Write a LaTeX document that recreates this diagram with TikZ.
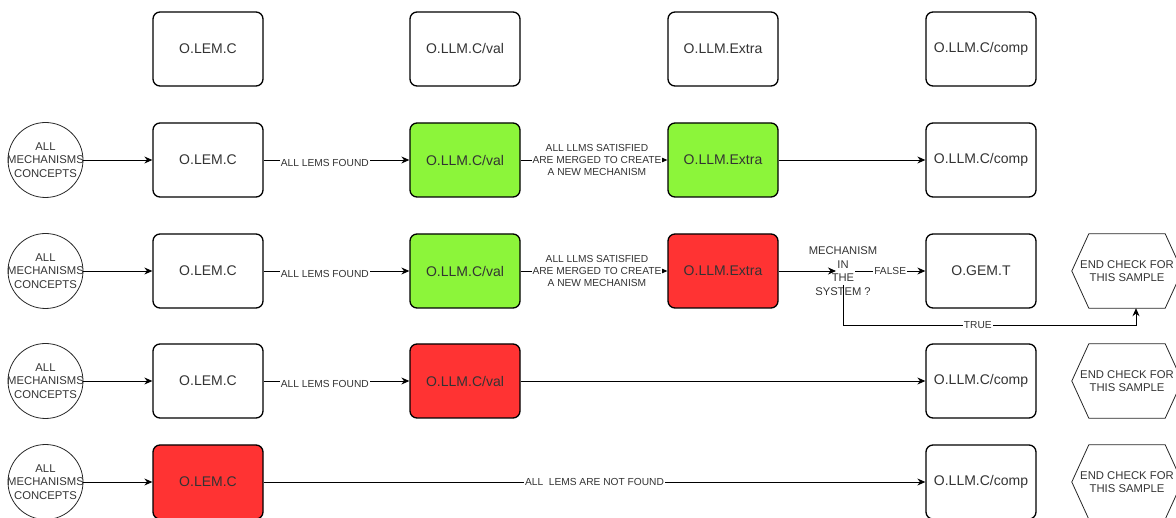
\documentclass[tikz,border=0pt]{standalone}
\usepackage{fontspec}
\setmainfont{Liberation Sans}
\usetikzlibrary{arrows.meta}
\definecolor{okgreen}{HTML}{8CF53A}
\definecolor{failred}{HTML}{FF3333}
\definecolor{txt}{HTML}{333333}
\tikzset{
  stage/.style={draw=black, line width=1.3pt, rounded corners=7pt,
    minimum width=110pt, minimum height=74pt, fill=white, text=txt,
    font=\fontsize{14}{16}\selectfont},
  pass/.style={stage, fill=okgreen},
  fail/.style={stage, fill=failred},
  srctext/.style={align=center, text=txt, font=\fontsize{11.3}{13.5}\selectfont},
  source/.style={circle, draw=black!85, line width=0.8pt, minimum size=75pt,
    inner sep=0pt},
  endcheck/.style={minimum width=110pt, minimum height=74pt, align=center,
    text=txt, font=\fontsize{11.3}{13.5}\selectfont},
  hexline/.style={draw=black!85, line width=0.8pt},
  decision/.style={align=center, text=txt, inner sep=0pt,
    font=\fontsize{11.2}{13.5}\selectfont},
  flow/.style={draw=black, line width=0.9pt, -{Stealth[length=8pt,width=7pt]}},
  lbl/.style={fill=white, inner sep=1pt, text=txt, align=center,
    font=\fontsize{10.2}{12}\selectfont},
}
\begin{document}
\begin{tikzpicture}[x=1pt, y=-1pt]
\useasboundingbox (0,0) rectangle (1176,518);

% column headers
\node[stage] (t1) at (208,49) {O.LEM.C};
\node[stage] (t2) at (465,49) {O.LLM.C/val};
\node[stage] (t3) at (723,49) {O.LLM.Extra};
\node[stage] (t4) at (981,49) {O.LLM.C/comp};

% case 1: everything validated
\node[source, label={[srctext]center:ALL\\MECHANISMS\\CONCEPTS}] (s1) at (45.5,160) {};
\node[stage] (a1) at (208,160) {O.LEM.C};
\node[pass]  (a2) at (465,160) {O.LLM.C/val};
\node[pass]  (a3) at (723,160) {O.LLM.Extra};
\node[stage] (a4) at (981,160) {O.LLM.C/comp};
\draw[flow] (s1) -- (a1);
\draw[flow] (a1) -- node[lbl, pos=0.42, yshift=-3pt] {ALL LEMS FOUND} (a2);
\draw[flow] (a2) -- node[lbl, pos=0.52] {ALL LLMS SATISFIED\\ARE MERGED TO CREATE\\A NEW MECHANISM} (a3);
\draw[flow] (a3) -- (a4);

% case 2: extra mechanism check fails
\node[source, label={[srctext]center:ALL\\MECHANISMS\\CONCEPTS}] (s2) at (45.5,271) {};
\node[stage] (b1) at (208,271) {O.LEM.C};
\node[pass]  (b2) at (465,271) {O.LLM.C/val};
\node[fail]  (b3) at (723,271) {O.LLM.Extra};
\node[decision] (dec) at (843,271) {MECHANISM\\IN\\THE\\SYSTEM ?};
\node[stage] (b4) at (981,271) {O.GEM.T};
\node[endcheck] (e2) at (1127,271) {END CHECK FOR\\THIS SAMPLE};
\draw[flow] (s2) -- (b1);
\draw[flow] (b1) -- node[lbl, pos=0.42, yshift=-3pt] {ALL LEMS FOUND} (b2);
\draw[flow] (b2) -- node[lbl, pos=0.52] {ALL LLMS SATISFIED\\ARE MERGED TO CREATE\\A NEW MECHANISM} (b3);
\draw[flow] (b3) -- ([xshift=-7pt]dec.center);
\draw[flow] ([xshift=12pt]dec.center) -- node[lbl] {FALSE} (b4);
\draw[flow] ([yshift=-14pt]dec.center) -- ([yshift=-54pt]dec.center)
  -| node[lbl, pos=0.23] {TRUE} ([xshift=9pt]e2.south);

% case 3: validation fails
\node[source, label={[srctext]center:ALL\\MECHANISMS\\CONCEPTS}] (s3) at (45.5,381) {};
\node[stage] (c1) at (208,381) {O.LEM.C};
\node[fail]  (c2) at (465,381) {O.LLM.C/val};
\node[stage] (c4) at (981,381) {O.LLM.C/comp};
\node[endcheck] (e3) at (1127,381) {END CHECK FOR\\THIS SAMPLE};
\draw[flow] (s3) -- (c1);
\draw[flow] (c1) -- node[lbl, pos=0.42, yshift=-3pt] {ALL LEMS FOUND} (c2);
\draw[flow] (c2) -- (c4);

% case 4: extraction fails
\node[source, label={[srctext]center:ALL\\MECHANISMS\\CONCEPTS}] (s4) at (45.5,482) {};
\node[fail]  (d1) at (208,482) {O.LEM.C};
\node[stage] (d4) at (981,482) {O.LLM.C/comp};
\node[endcheck] (e4) at (1127,482) {END CHECK FOR\\THIS SAMPLE};
\draw[flow] (s4) -- (d1);
\draw[flow] (d1) -- node[lbl, pos=0.5] {ALL\ \ LEMS ARE NOT FOUND} (d4);

% hexagonal end markers
\foreach \h in {e2,e3,e4}
  \draw[hexline] ([xshift=17pt]\h.north west) -- ([xshift=-17pt]\h.north east)
    -- (\h.east) -- ([xshift=-17pt]\h.south east) -- ([xshift=17pt]\h.south west)
    -- (\h.west) -- cycle;
\end{tikzpicture}
\end{document}
